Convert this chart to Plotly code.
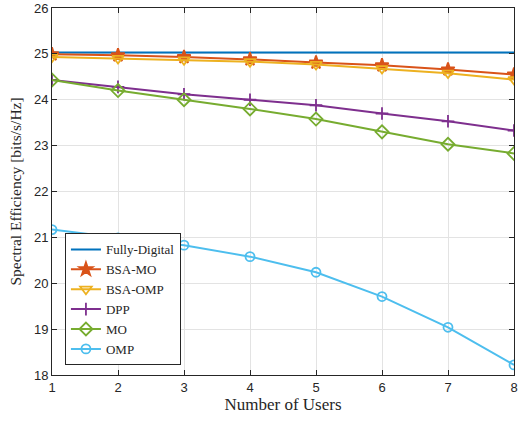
import plotly.graph_objects as go

users = [1, 2, 3, 4, 5, 6, 7, 8]
fully_digital = [25.03, 25.03, 25.03, 25.03, 25.03, 25.03, 25.03, 25.03]
bsa_mo = [24.99, 24.97, 24.93, 24.88, 24.81, 24.75, 24.66, 24.55]
bsa_omp = [24.93, 24.90, 24.87, 24.83, 24.77, 24.68, 24.58, 24.44]
dpp = [24.43, 24.28, 24.12, 24.00, 23.88, 23.70, 23.53, 23.33]
mo = [24.43, 24.20, 24.00, 23.80, 23.58, 23.30, 23.03, 22.83]
omp = [21.17, 20.99, 20.83, 20.58, 20.24, 19.71, 19.04, 18.22]

series = [
    ("Fully-Digital", fully_digital, "#0072BD", None, 0),
    ("BSA-MO", bsa_mo, "#D95319", "star", 10),
    ("BSA-OMP", bsa_omp, "#EDB120", "triangle-down-open", 10),
    ("DPP", dpp, "#7E2F8E", "cross-thin", 9),
    ("MO", mo, "#77AC30", "diamond-open", 10),
    ("OMP", omp, "#4DBEEE", "circle-open", 9),
]

fig = go.Figure()
for name, ys, color, sym, size in series:
    if sym is None:
        fig.add_trace(go.Scatter(x=users, y=ys, name=name, mode="lines",
                                 line=dict(color=color, width=2)))
    else:
        fig.add_trace(go.Scatter(
            x=users, y=ys, name=name, mode="lines+markers",
            line=dict(color=color, width=2),
            marker=dict(symbol=sym, size=size, color=color,
                        line=dict(color=color, width=1.8)),
        ))

serif = "Liberation Serif, Times New Roman, serif"
sans = "Liberation Sans, Arial, sans-serif"

axis_common = dict(
    showline=True, linecolor="#262626", linewidth=1, mirror="ticks",
    ticks="inside", ticklen=5, tickcolor="#262626",
    showgrid=True, gridcolor="#e3e3e3", gridwidth=1, zeroline=False,
    tickfont=dict(family=sans, size=13, color="#262626"),
    ticklabeloverflow="allow", automargin=False,
)

fig.update_layout(
    width=520, height=423,
    margin=dict(l=52, r=6, t=8, b=48),
    plot_bgcolor="white", paper_bgcolor="white",
    xaxis=dict(range=[1, 8], tickvals=users, **axis_common,
               title=dict(text="Number of Users", font=dict(family=serif, size=17, color="#262626"), standoff=4)),
    yaxis=dict(range=[18, 26], dtick=1, **axis_common,
               title=dict(text="Spectral Efficiency [bits/s/Hz]", font=dict(family=serif, size=15.5, color="#262626"), standoff=8)),
    legend=dict(x=0.028, y=0.026, xanchor="left", yanchor="bottom",
                bgcolor="white", bordercolor="#262626", borderwidth=1,
                font=dict(family=serif, size=13, color="#262626"),
                tracegroupgap=0, itemwidth=30),
    showlegend=True,
)

fig.write_html("out.html")
